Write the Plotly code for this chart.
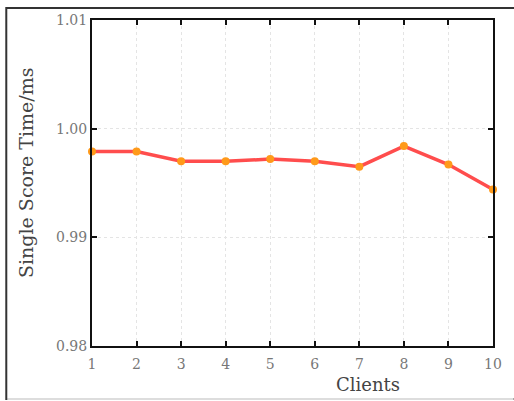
import plotly.graph_objects as go

clients = [1, 2, 3, 4, 5, 6, 7, 8, 9, 10]
score_time = [0.9979, 0.9979, 0.9970, 0.9970, 0.9972, 0.9970, 0.9965, 0.9984, 0.9967, 0.9944]
y_ticks = [0.98, 0.99, 1.00, 1.01]
y_tick_text = ["0.98", "0.99", "1.00", "1.01"]

W, H = 514, 401
L, R, T, B = 92, 15, 20, 55
pw, ph = W - L - R, H - T - B

def px(x):
    return (x - L) / pw

def py(y):
    return (H - B - y) / ph

SERIF = "DejaVu Serif"

fig = go.Figure()
fig.add_trace(go.Scatter(
    x=clients, y=score_time, mode="lines+markers",
    line=dict(color="#ff4d4d", width=3.5),
    marker=dict(color="#ff9a1a", size=8),
    showlegend=False, cliponaxis=False,
))

axis_common = dict(
    showline=True, linecolor="#111", linewidth=2, mirror="ticks",
    ticks="inside", ticklen=5, tickwidth=2, tickcolor="#111",
    showgrid=True, gridcolor="#e4e4e4", griddash="dot", gridwidth=1,
    zeroline=False,
    tickfont=dict(family=SERIF, size=14, color="#777"),
)

fig.update_xaxes(range=[1, 10], tickvals=clients, ticktext=[str(c) for c in clients],
                 ticklabelstandoff=4, **axis_common)
fig.update_yaxes(range=[0.98, 1.01], tickvals=y_ticks, ticktext=y_tick_text,
                 ticklabelstandoff=0, **axis_common)

fig.add_annotation(text="Single Score Time/ms", xref="paper", yref="paper", x=px(25), y=py(172),
                   textangle=-90, showarrow=False,
                   font=dict(family=SERIF, size=19, color="#444"),
                   xanchor="center", yanchor="middle")
fig.add_annotation(text="Clients", xref="paper", yref="paper", x=px(372), y=py(384),
                   showarrow=False, font=dict(family=SERIF, size=18, color="#444"),
                   xanchor="center", yanchor="middle")

# outer frame
fig.add_shape(type="rect", xref="paper", yref="paper", x0=px(5), x1=px(530), y0=py(399), y1=py(8),
              line=dict(color="#333", width=2), fillcolor="rgba(0,0,0,0)", layer="below")
fig.add_shape(type="line", xref="paper", yref="paper", x0=px(6), x1=px(520), y0=py(399), y1=py(399),
              line=dict(color="#ddd", width=2))

fig.update_layout(
    width=W, height=H,
    margin=dict(l=L, r=R, t=T, b=B),
    paper_bgcolor="white", plot_bgcolor="white",
)

fig.write_html("out.html", config={"displayModeBar": False},
               post_script="document.body.style.margin='0';document.body.style.overflow='hidden';")
